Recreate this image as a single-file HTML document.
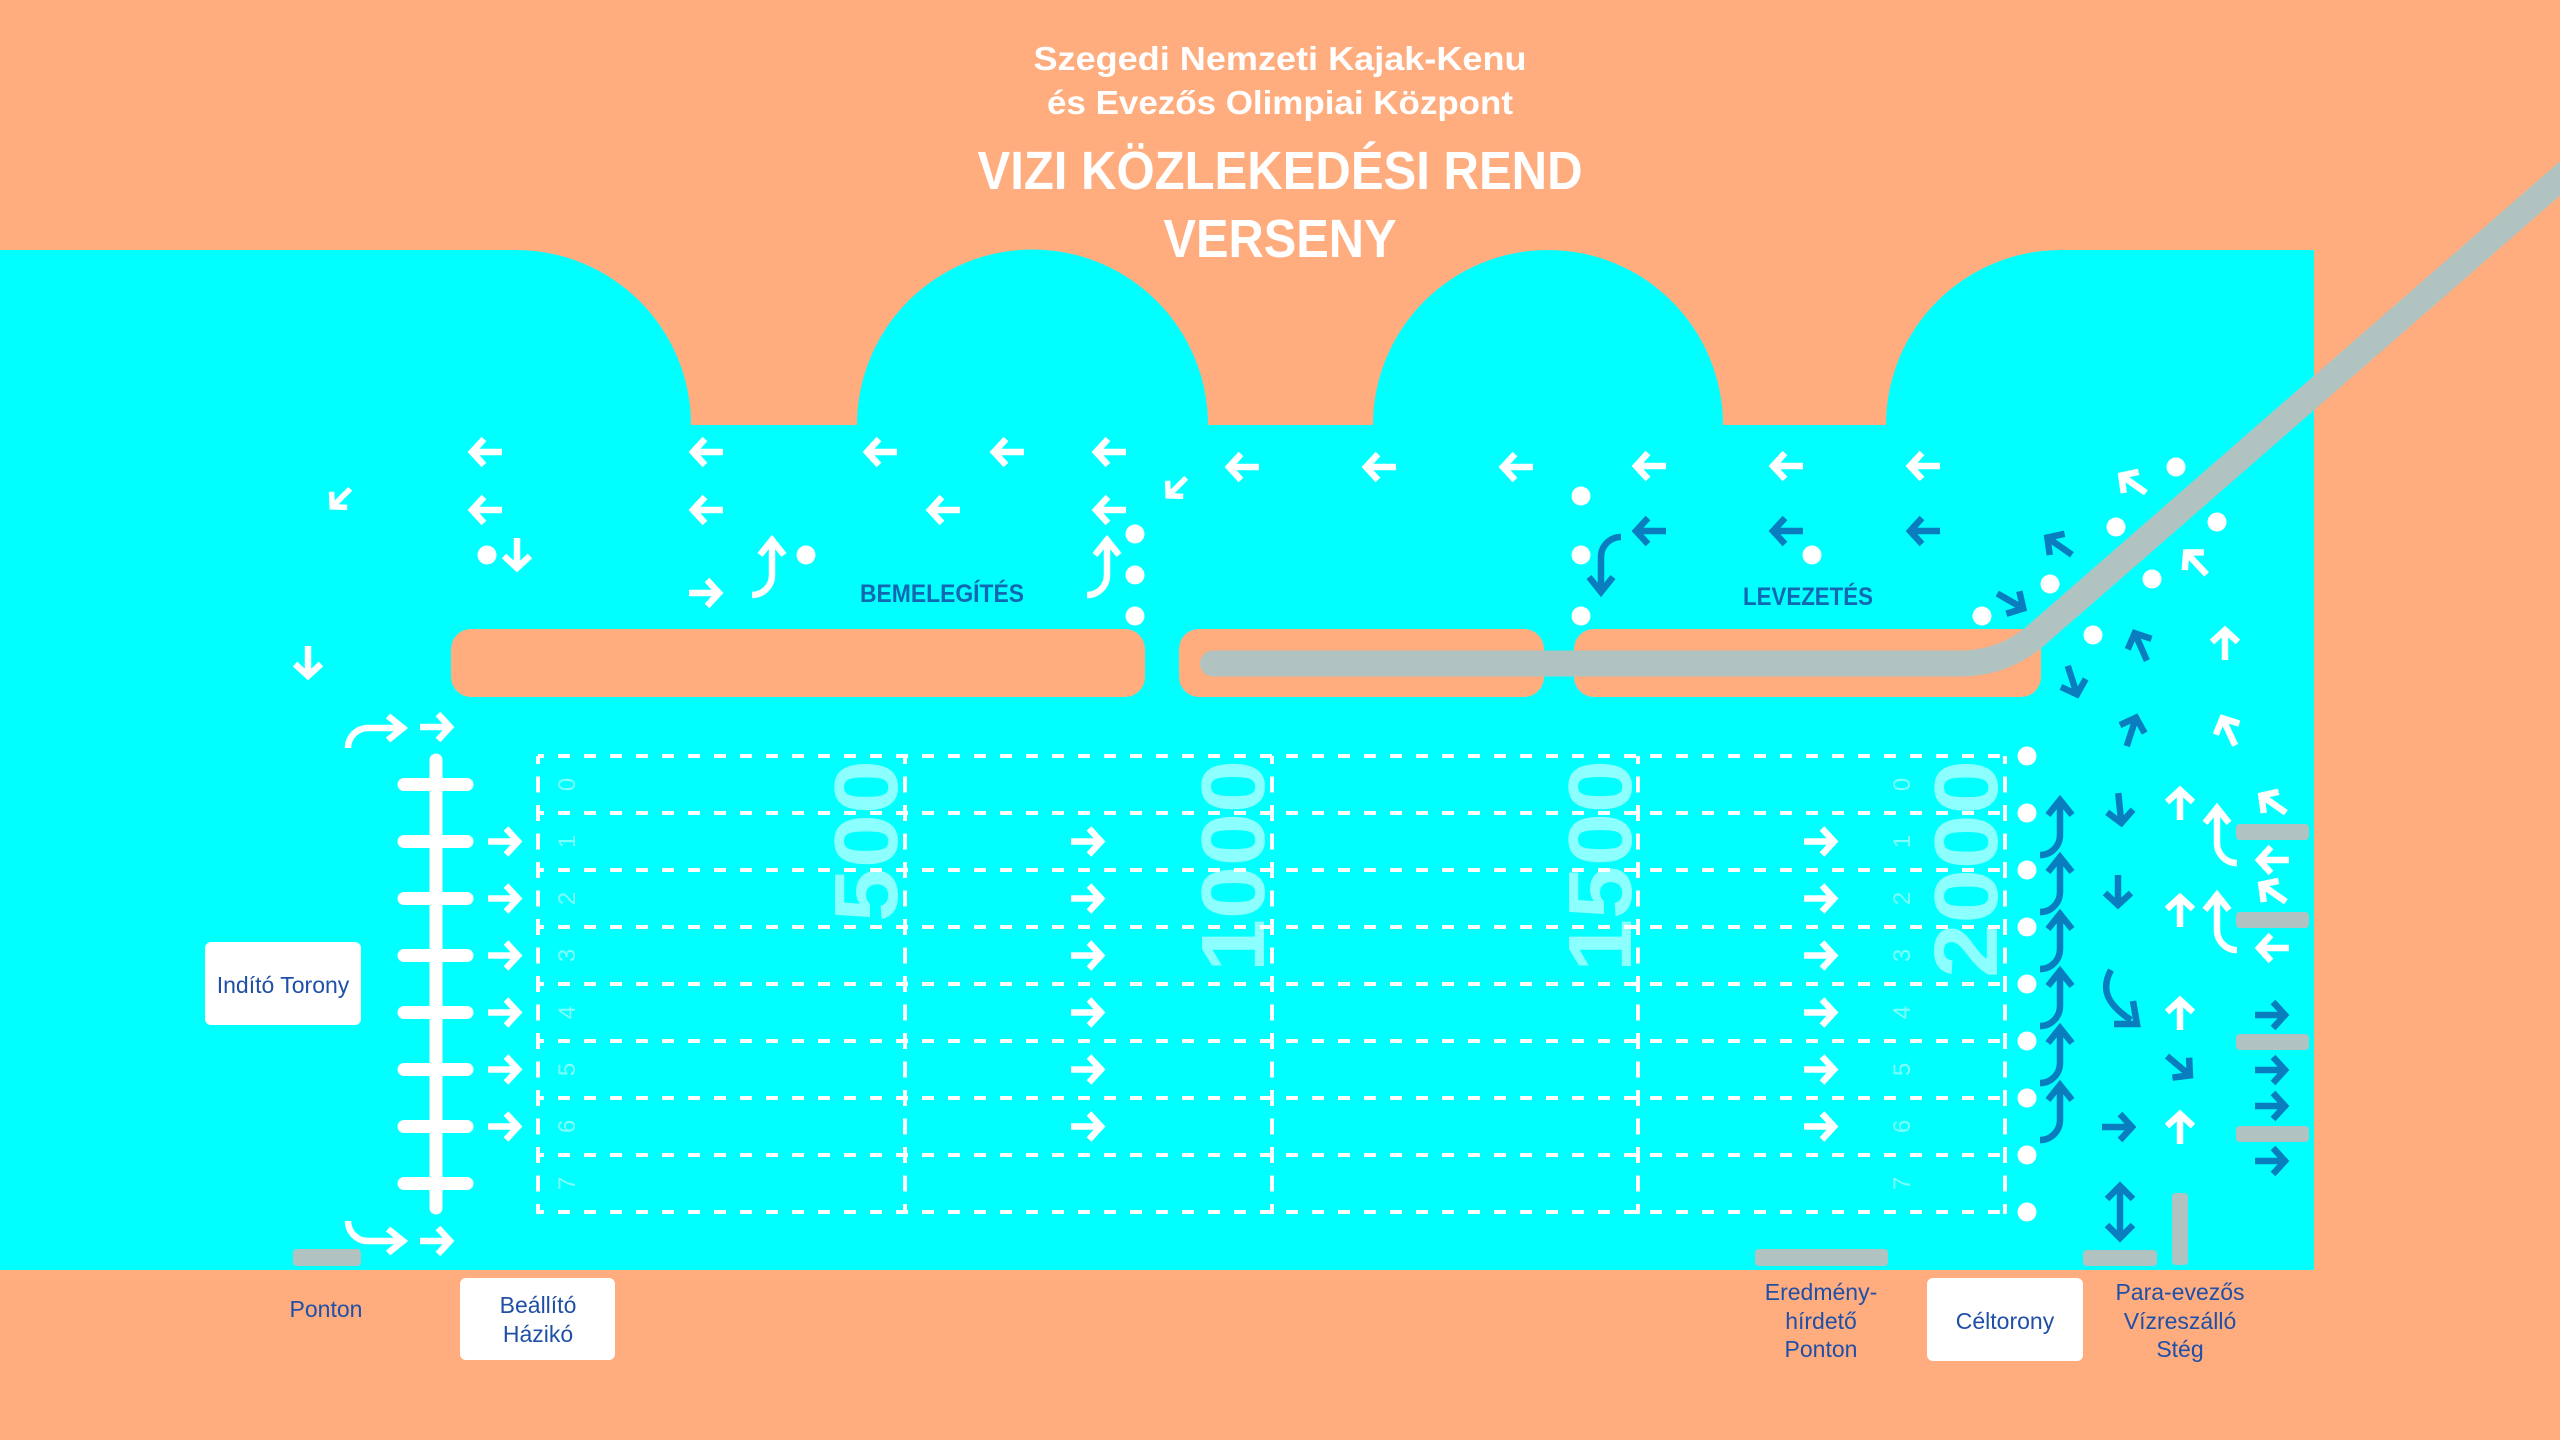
<!DOCTYPE html>
<html>
<head>
<meta charset="utf-8">
<style>
html,body{margin:0;padding:0;background:#FFAD7E;}
svg{display:block;}
</style>
</head>
<body>
<svg width="2560" height="1440" viewBox="0 0 2560 1440" xmlns="http://www.w3.org/2000/svg">
<defs>
<path id="ar" d="M-17,0 H11 M1,-13 L13,0 L1,13" fill="none" stroke-width="6.5"/>
<path id="hk" d="M0,4 V37 A20,20 0 0 1 -20,57 M-12,17 L0,2 L12,17" fill="none" stroke-width="6.5"/>
</defs>
<rect width="2560" height="1440" fill="#FFAD7E"/>

<!-- Title -->
<g font-family="'Liberation Sans', sans-serif" font-weight="bold" fill="#fff" text-anchor="middle">
<text x="1280" y="70" font-size="33" textLength="493" lengthAdjust="spacingAndGlyphs">Szegedi Nemzeti Kajak-Kenu</text>
<text x="1280" y="114" font-size="33" textLength="466" lengthAdjust="spacingAndGlyphs">és Evezős Olimpiai Központ</text>
<text x="1280" y="189" font-size="54" textLength="605" lengthAdjust="spacingAndGlyphs">VIZI KÖZLEKEDÉSI REND</text>
<text x="1280" y="257" font-size="54" textLength="233" lengthAdjust="spacingAndGlyphs">VERSENY</text>
</g>

<!-- Water -->
<path d="M0,250 H516 A175,175 0 0 1 691,425 H857 A175,175 0 0 1 1208,425 H1373 A175,175 0 0 1 1723,425 H1886 A175,175 0 0 1 2061,250 H2314 V1270 H0 Z" fill="#00FFFF"/>

<!-- Islands -->
<g fill="#FFAD7E">
<rect x="451" y="629" width="694" height="68" rx="20"/>
<rect x="1179" y="629" width="365" height="68" rx="20"/>
<rect x="1574" y="629" width="467" height="68" rx="20"/>
</g>

<!-- Road -->
<path d="M1213,663.5 H1960 Q2004,663.5 2037,634.6 L2580,161" fill="none" stroke="#B1C3C1" stroke-width="26" stroke-linecap="round"/>

<!-- Lane grid -->
<g stroke="#fff" stroke-width="4" fill="none">
<g stroke-dasharray="12 14" stroke-dashoffset="6">
<line x1="538" y1="756" x2="2005" y2="756"/>
<line x1="538" y1="813" x2="2005" y2="813"/>
<line x1="538" y1="870" x2="2005" y2="870"/>
<line x1="538" y1="927" x2="2005" y2="927"/>
<line x1="538" y1="984" x2="2005" y2="984"/>
<line x1="538" y1="1041" x2="2005" y2="1041"/>
<line x1="538" y1="1098" x2="2005" y2="1098"/>
<line x1="538" y1="1155" x2="2005" y2="1155"/>
<line x1="538" y1="1212" x2="2005" y2="1212"/>
</g>
<g stroke-dasharray="16 12.5" stroke-dashoffset="8">
<line x1="538" y1="756" x2="538" y2="1214"/>
<line x1="905" y1="756" x2="905" y2="1214"/>
<line x1="1272" y1="756" x2="1272" y2="1214"/>
<line x1="1638" y1="756" x2="1638" y2="1214"/>
<line x1="2005" y1="756" x2="2005" y2="1214"/>
</g>
</g>

<!-- Big distance numbers -->
<g font-family="'Liberation Sans', sans-serif" font-weight="bold" font-size="90" fill="#fff" fill-opacity="0.55" text-anchor="end">
<text transform="translate(897,760) rotate(-90)" textLength="162" lengthAdjust="spacingAndGlyphs">500</text>
<text transform="translate(1264,760) rotate(-90)" textLength="212" lengthAdjust="spacingAndGlyphs">1000</text>
<text transform="translate(1631,760) rotate(-90)" textLength="212" lengthAdjust="spacingAndGlyphs">1500</text>
<text transform="translate(1997,760) rotate(-90)" textLength="218" lengthAdjust="spacingAndGlyphs">2000</text>
</g>

<!-- Lane numbers -->
<g font-family="'Liberation Sans', sans-serif" font-size="24" fill="#fff" fill-opacity="0.5" text-anchor="middle">
<text transform="translate(575,784.5) rotate(-90)">0</text>
<text transform="translate(575,841.5) rotate(-90)">1</text>
<text transform="translate(575,898.5) rotate(-90)">2</text>
<text transform="translate(575,955.5) rotate(-90)">3</text>
<text transform="translate(575,1012.5) rotate(-90)">4</text>
<text transform="translate(575,1069.5) rotate(-90)">5</text>
<text transform="translate(575,1126.5) rotate(-90)">6</text>
<text transform="translate(575,1183.5) rotate(-90)">7</text>
<text transform="translate(1910,784.5) rotate(-90)">0</text>
<text transform="translate(1910,841.5) rotate(-90)">1</text>
<text transform="translate(1910,898.5) rotate(-90)">2</text>
<text transform="translate(1910,955.5) rotate(-90)">3</text>
<text transform="translate(1910,1012.5) rotate(-90)">4</text>
<text transform="translate(1910,1069.5) rotate(-90)">5</text>
<text transform="translate(1910,1126.5) rotate(-90)">6</text>
<text transform="translate(1910,1183.5) rotate(-90)">7</text>
</g>

<!-- Start structure -->
<g stroke="#fff" stroke-width="13" stroke-linecap="round">
<line x1="436" y1="760" x2="436" y2="1208"/>
<line x1="404" y1="784.5" x2="467" y2="784.5"/>
<line x1="404" y1="841.5" x2="467" y2="841.5"/>
<line x1="404" y1="898.5" x2="467" y2="898.5"/>
<line x1="404" y1="955.5" x2="467" y2="955.5"/>
<line x1="404" y1="1012.5" x2="467" y2="1012.5"/>
<line x1="404" y1="1069.5" x2="467" y2="1069.5"/>
<line x1="404" y1="1126.5" x2="467" y2="1126.5"/>
<line x1="404" y1="1183.5" x2="467" y2="1183.5"/>
</g>

<!-- Gray pontoons -->
<g fill="#B1C3C1">
<rect x="293" y="1249" width="68" height="17" rx="4"/>
<rect x="1755" y="1249" width="133" height="17" rx="4"/>
<rect x="2083" y="1250" width="74" height="16" rx="4"/>
<rect x="2172" y="1193" width="16" height="72" rx="4"/>
<rect x="2236" y="824" width="73" height="16" rx="4"/>
<rect x="2236" y="912" width="73" height="16" rx="4"/>
<rect x="2236" y="1034" width="73" height="16" rx="4"/>
<rect x="2236" y="1126" width="73" height="16" rx="4"/>
</g>

<!-- Dots -->
<g fill="#fff">
<circle cx="487" cy="555" r="9.5"/>
<circle cx="806" cy="555" r="9.5"/>
<circle cx="1135" cy="534" r="9.5"/>
<circle cx="1135" cy="575" r="9.5"/>
<circle cx="1135" cy="616" r="9.5"/>
<circle cx="1581" cy="496" r="9.5"/>
<circle cx="1581" cy="555" r="9.5"/>
<circle cx="1581" cy="616" r="9.5"/>
<circle cx="1812" cy="555" r="9.5"/>
<circle cx="1982" cy="616" r="9.5"/>
<circle cx="2050" cy="584" r="9.5"/>
<circle cx="2116" cy="527" r="9.5"/>
<circle cx="2176" cy="467" r="9.5"/>
<circle cx="2217" cy="522" r="9.5"/>
<circle cx="2152" cy="579" r="9.5"/>
<circle cx="2093" cy="635" r="9.5"/>
<circle cx="2027" cy="756" r="9.5"/>
<circle cx="2027" cy="813" r="9.5"/>
<circle cx="2027" cy="870" r="9.5"/>
<circle cx="2027" cy="927" r="9.5"/>
<circle cx="2027" cy="984" r="9.5"/>
<circle cx="2027" cy="1041" r="9.5"/>
<circle cx="2027" cy="1098" r="9.5"/>
<circle cx="2027" cy="1155" r="9.5"/>
<circle cx="2027" cy="1212" r="9.5"/>
</g>

<!-- White arrows -->
<g stroke="#fff">
<use href="#ar" transform="translate(485,452) rotate(180)"/>
<use href="#ar" transform="translate(706,452) rotate(180)"/>
<use href="#ar" transform="translate(880,452) rotate(180)"/>
<use href="#ar" transform="translate(1007,452) rotate(180)"/>
<use href="#ar" transform="translate(1109,452) rotate(180)"/>
<use href="#ar" transform="translate(1242,467) rotate(180)"/>
<use href="#ar" transform="translate(1379,467) rotate(180)"/>
<use href="#ar" transform="translate(1516,467) rotate(180)"/>
<use href="#ar" transform="translate(1649,466) rotate(180)"/>
<use href="#ar" transform="translate(1786,466) rotate(180)"/>
<use href="#ar" transform="translate(1923,466) rotate(180)"/>
<use href="#ar" transform="translate(340,499) rotate(135) scale(0.85)"/>
<use href="#ar" transform="translate(1176,488) rotate(135) scale(0.85)"/>
<use href="#ar" transform="translate(485,510) rotate(180)"/>
<use href="#ar" transform="translate(706,510) rotate(180)"/>
<use href="#ar" transform="translate(943,510) rotate(180)"/>
<use href="#ar" transform="translate(1109,510) rotate(180)"/>
<use href="#ar" transform="translate(517,555) rotate(90)"/>
<use href="#ar" transform="translate(308,663) rotate(90)"/>
<use href="#ar" transform="translate(706,593)"/>
<use href="#hk" transform="translate(772,538)"/>
<use href="#hk" transform="translate(1107,538)"/>
<use href="#hk" transform="translate(405,728) rotate(90) scale(-1,1)"/>
<use href="#ar" transform="translate(437,727)"/>
<use href="#hk" transform="translate(405,1241) rotate(90)"/>
<use href="#ar" transform="translate(437,1241)"/>
<!-- lane arrows -->
<use href="#ar" transform="translate(505,841.5)"/>
<use href="#ar" transform="translate(505,898.5)"/>
<use href="#ar" transform="translate(505,955.5)"/>
<use href="#ar" transform="translate(505,1012.5)"/>
<use href="#ar" transform="translate(505,1069.5)"/>
<use href="#ar" transform="translate(505,1126.5)"/>
<use href="#ar" transform="translate(1088,841.5)"/>
<use href="#ar" transform="translate(1088,898.5)"/>
<use href="#ar" transform="translate(1088,955.5)"/>
<use href="#ar" transform="translate(1088,1012.5)"/>
<use href="#ar" transform="translate(1088,1069.5)"/>
<use href="#ar" transform="translate(1088,1126.5)"/>
<use href="#ar" transform="translate(1821,841.5)"/>
<use href="#ar" transform="translate(1821,898.5)"/>
<use href="#ar" transform="translate(1821,955.5)"/>
<use href="#ar" transform="translate(1821,1012.5)"/>
<use href="#ar" transform="translate(1821,1069.5)"/>
<use href="#ar" transform="translate(1821,1126.5)"/>
<!-- right area -->
<use href="#ar" transform="translate(2132,483) rotate(-145)"/>
<use href="#ar" transform="translate(2195,562) rotate(-133)"/>
<use href="#ar" transform="translate(2225,643) rotate(-90)"/>
<use href="#ar" transform="translate(2228,730) rotate(-115)"/>
<use href="#ar" transform="translate(2180,803) rotate(-90)"/>
<use href="#ar" transform="translate(2180,910) rotate(-90)"/>
<use href="#ar" transform="translate(2180,1013) rotate(-90)"/>
<use href="#ar" transform="translate(2180,1127) rotate(-90)"/>
<use href="#hk" transform="translate(2217,806) scale(-1,1)"/>
<use href="#hk" transform="translate(2217,893) scale(-1,1)"/>
<use href="#ar" transform="translate(2272,803) rotate(-145)"/>
<use href="#ar" transform="translate(2272,860) rotate(180)"/>
<use href="#ar" transform="translate(2272,892) rotate(-145)"/>
<use href="#ar" transform="translate(2272,948) rotate(180)"/>
</g>

<!-- Dark blue arrows -->
<g stroke="#0A7DBF">
<use href="#ar" transform="translate(1649,531) rotate(180)"/>
<use href="#ar" transform="translate(1786,531) rotate(180)"/>
<use href="#ar" transform="translate(1923,531) rotate(180)"/>
<use href="#hk" transform="translate(1601,594) rotate(180)"/>
<use href="#ar" transform="translate(2012,602) rotate(30)"/>
<use href="#ar" transform="translate(2058,545) rotate(-145)"/>
<use href="#ar" transform="translate(2140,645) rotate(-114)"/>
<use href="#ar" transform="translate(2073,682) rotate(72)"/>
<use href="#ar" transform="translate(2132,730) rotate(-72)"/>
<use href="#hk" transform="translate(2060,798)"/>
<use href="#hk" transform="translate(2060,855)"/>
<use href="#hk" transform="translate(2060,912)"/>
<use href="#hk" transform="translate(2060,969)"/>
<use href="#hk" transform="translate(2060,1026)"/>
<use href="#hk" transform="translate(2060,1083)"/>
<use href="#ar" transform="translate(2120,810) rotate(84)"/>
<use href="#ar" transform="translate(2118,892) rotate(90)"/>
<path d="M2111,970 C2100,990 2108,1005 2131,1020 M2133,1001 L2137,1024 L2114,1024" fill="none" stroke-width="6.5"/>
<use href="#ar" transform="translate(2272,1015)"/>
<use href="#ar" transform="translate(2272,1070)"/>
<use href="#ar" transform="translate(2272,1106)"/>
<use href="#ar" transform="translate(2272,1161)"/>
<use href="#ar" transform="translate(2180,1067) rotate(40)"/>
<use href="#ar" transform="translate(2119,1127)"/>
<path d="M2120,1188 V1236 M2107,1199 L2120,1186 L2133,1199 M2107,1225 L2120,1238 L2133,1225" fill="none" stroke-width="6.5"/>
</g>

<!-- Zone labels -->
<g font-family="'Liberation Sans', sans-serif" font-weight="bold" font-size="25" fill="#1168B0" text-anchor="middle">
<text x="942" y="602" textLength="164" lengthAdjust="spacingAndGlyphs">BEMELEGÍTÉS</text>
<text x="1808" y="605" textLength="130" lengthAdjust="spacingAndGlyphs">LEVEZETÉS</text>
</g>

<!-- White boxes -->
<g fill="#fff">
<rect x="205" y="942" width="156" height="83" rx="6"/>
<rect x="460" y="1278" width="155" height="82" rx="6"/>
<rect x="1927" y="1278" width="156" height="83" rx="6"/>
</g>

<!-- Labels -->
<g font-family="'Liberation Sans', sans-serif" font-size="23" fill="#1F4FA6" text-anchor="middle">
<text x="283" y="993">Indító Torony</text>
<text x="326" y="1317">Ponton</text>
<text x="538" y="1313">Beállító</text>
<text x="538" y="1342">Házikó</text>
<text x="1821" y="1300">Eredmény-</text>
<text x="1821" y="1329">hírdető</text>
<text x="1821" y="1357">Ponton</text>
<text x="2005" y="1329">Céltorony</text>
<text x="2180" y="1300">Para-evezős</text>
<text x="2180" y="1329">Vízreszálló</text>
<text x="2180" y="1357">Stég</text>
</g>
</svg>
</body>
</html>
